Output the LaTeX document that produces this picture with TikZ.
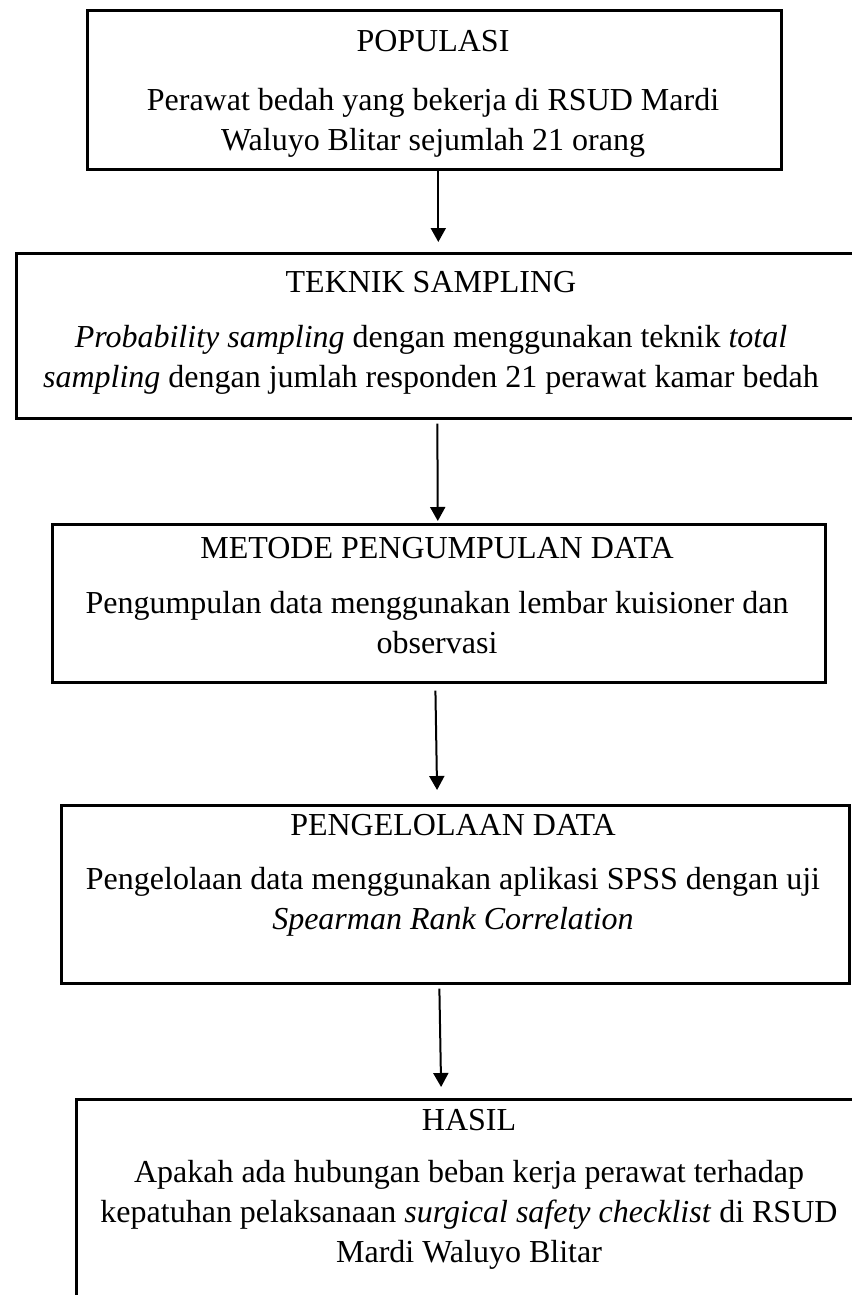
\documentclass[tikz,border=0pt]{standalone}
\usepackage{fontspec}
\setmainfont{Liberation Serif}
\usetikzlibrary{arrows.meta, calc}

\tikzset{
  kotak/.style={draw, line width=1.3pt, inner sep=0pt, anchor=north west},
  judul/.style={inner sep=0pt, font=\fontsize{16}{20}\selectfont},
  isi/.style={inner sep=0pt, anchor=north, align=center, font=\fontsize{16}{20}\selectfont},
  panah/.style={line width=1pt, -{Triangle[length=7pt, width=7.5pt]}}
}

\begin{document}
\begin{tikzpicture}[x=0.5pt, y=-0.5pt]
    \useasboundingbox (0,0) rectangle (851,1295);

    % Populasi
    \node[kotak, minimum width=347pt, minimum height=79.5pt] (pop) at (86,9) {};
    \node[judul] (popJ) at (433,41) {POPULASI};
    \node[isi] (popI) at (433,88) {Perawat bedah yang bekerja di RSUD Mardi\\Waluyo Blitar sejumlah 21 orang};

    % Teknik sampling
    \node[kotak, minimum width=419pt, minimum height=82.5pt] (tek) at (15,252) {};
    \node[judul] (tekJ) at (431,282) {TEKNIK SAMPLING};
    \node[isi] (tekI) at (431,325) {\textit{Probability sampling} dengan menggunakan teknik \textit{total}\\\textit{sampling} dengan jumlah responden 21 perawat kamar bedah};

    % Metode pengumpulan data
    \node[kotak, minimum width=386.5pt, minimum height=79pt] (met) at (51,523) {};
    \node[judul] (metJ) at (437,548) {METODE PENGUMPULAN DATA};
    \node[isi] (metI) at (437,591) {Pengumpulan data menggunakan lembar kuisioner dan\\observasi};

    % Pengelolaan data
    \node[kotak, minimum width=394pt, minimum height=89pt] (olah) at (60,804) {};
    \node[judul] (olahJ) at (453,825) {PENGELOLAAN DATA};
    \node[isi] (olahI) at (453,867) {Pengelolaan data menggunakan aplikasi SPSS dengan uji\\\textit{Spearman Rank Correlation}};

    % Hasil
    \node[kotak, minimum width=394pt, minimum height=110pt] (has) at (75,1098) {};
    \node[judul] (hasJ) at (469,1120) {HASIL};
    \node[isi] (hasI) at (469,1160) {Apakah ada hubungan beban kerja perawat terhadap\\kepatuhan pelaksanaan \textit{surgical safety checklist} di RSUD\\Mardi Waluyo Blitar};

    % Panah
    \draw[panah, shorten >=5pt] ($(pop.south)+(4,0)$) -- ($(tek.north)+(3,0)$);
    \draw[panah, shorten <=2pt, shorten >=1pt] ($(tek.south)+(2,0)$) -- ($(met.north)+(-1,0)$);
    \draw[panah, shorten <=3.5pt, shorten >=7pt] ($(met.south)+(-3.5,0)$) -- ($(olah.north)+(-18,0)$);
    \draw[panah, shorten <=2pt, shorten >=5.5pt] ($(olah.south)+(-16,0)$) -- ($(has.north)+(-29,0)$);
\end{tikzpicture}
\end{document}
